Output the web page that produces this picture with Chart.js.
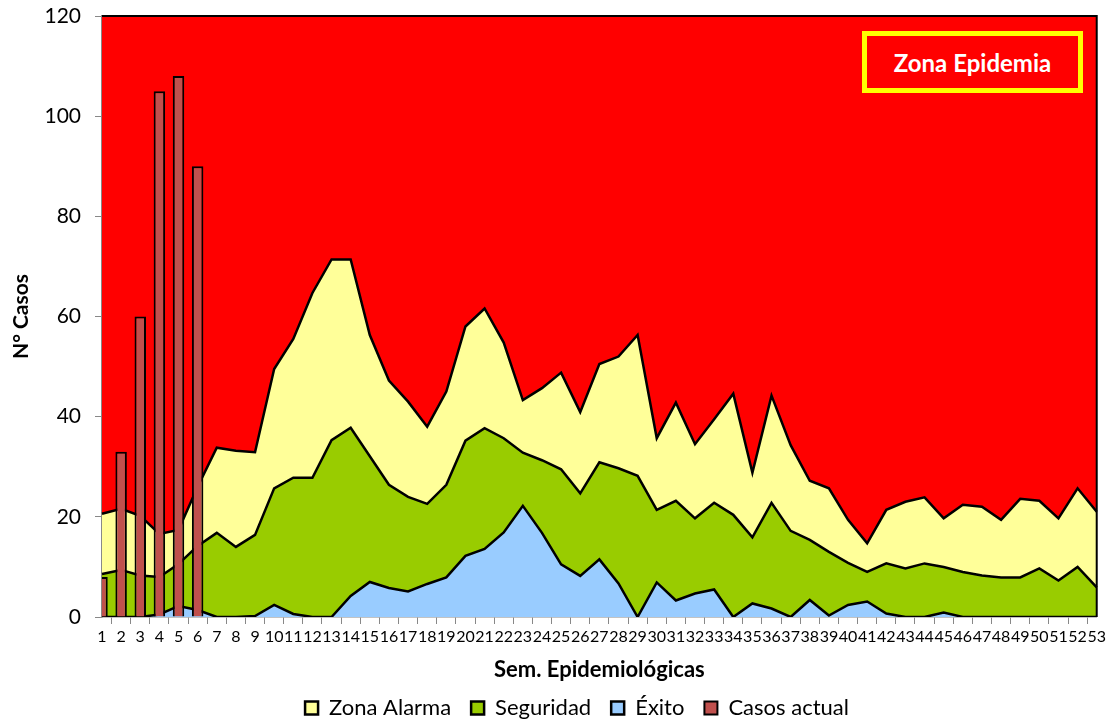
<!DOCTYPE html>
<html>
<head>
<meta charset="utf-8">
<script src="https://cdn.jsdelivr.net/npm/chart.js@4.4.0/dist/chart.umd.min.js"></script>
<style>
  html, body { margin: 0; padding: 0; background: #fff; }
  #wrap { position: relative; width: 1109px; height: 725px; }
  #zona {
    position: absolute; left: 862px; top: 31px; width: 211px; height: 52px;
    border: 5px solid #FFFF00; background: #FF0000; color: #fff;
    font: bold 24px Lato, sans-serif;
    display: flex; align-items: center; justify-content: center;
  }
</style>
</head>
<body>
<div id="wrap">
  <canvas id="chart" width="1109" height="725"></canvas>
  <div id="zona">Zona Epidemia</div>
</div>
<script>
// Semanas epidemiológicas
const semanas = ['1','2','3','4','5','6','7','8','9','10','11','12','13','14','15','16','17','18','19','20',
  '21','22','23','24','25','26','27','28','29','30','31','32','33','34','35','36','37','38','39','40',
  '41','42','43','44','45','46','47','48','49','50','51','52','53'];

const zonaAlarma = [20.6, 21.6, 20.2, 16.6, 17.4, 26.0, 33.8, 33.2, 32.9, 49.5,
  55.5, 64.7, 71.4, 71.4, 56.3, 47.2, 43.0, 38.0, 45.0, 58.0,
  61.6, 54.8, 43.3, 45.7, 48.8, 40.9, 50.5, 52.0, 56.3, 35.7,
  42.8, 34.5, 39.5, 44.6, 28.8, 44.2, 34.3, 27.2, 25.7, 19.4,
  14.7, 21.4, 23.0, 23.9, 19.7, 22.4, 22.0, 19.4, 23.6, 23.2,
  19.7, 25.7, 21.0];

const seguridad = [8.6, 9.4, 8.3, 8.0, 10.6, 14.2, 16.8, 14.0, 16.4, 25.7,
  27.8, 27.8, 35.3, 37.8, 32.1, 26.4, 24.0, 22.6, 26.4, 35.2,
  37.7, 35.7, 32.8, 31.3, 29.5, 24.7, 30.9, 29.7, 28.2, 21.4,
  23.2, 19.7, 22.8, 20.4, 15.9, 22.8, 17.2, 15.4, 13.0, 10.8,
  9.0, 10.7, 9.7, 10.7, 10.0, 9.0, 8.3, 7.9, 7.9, 9.7,
  7.3, 10.0, 5.9];

const exito = [0, 0, 0, 0.5, 2.2, 1.4, 0, 0, 0.2, 2.4,
  0.6, 0, 0, 4.2, 7.0, 5.8, 5.1, 6.6, 7.9, 12.2,
  13.6, 16.9, 22.2, 16.8, 10.5, 8.2, 11.5, 6.7, 0, 6.9,
  3.3, 4.7, 5.5, 0, 2.7, 1.7, 0, 3.4, 0.3, 2.4,
  3.1, 0.7, 0, 0, 0.9, 0, 0, 0, 0, 0,
  0, 0, 0];

const casosActual = [8, 33, 60, 105, 108, 90];

const yTicks = [0, 20, 40, 60, 80, 100, 120];

// red "zona epidemia" background + black frame top/right
const fondo = {
  id: 'fondo',
  beforeDatasetsDraw(chart) {
    const {ctx, chartArea: a} = chart;
    ctx.save();
    ctx.fillStyle = '#FF0000';
    ctx.fillRect(a.left, a.top, a.right - a.left, a.bottom - a.top);
    ctx.restore();
  },
  afterDraw(chart) {
    const {ctx, chartArea: a} = chart;
    ctx.save();
    ctx.strokeStyle = '#000';
    ctx.lineWidth = 2;
    ctx.beginPath();
    ctx.moveTo(a.left, a.top);
    ctx.lineTo(a.right, a.top);
    ctx.lineTo(a.right, a.bottom);
    ctx.stroke();
    ctx.restore();
  },
  afterLayout(chart) {
    // nudge the legend to where the original sits
    chart.legend.left += 28;
    chart.legend.right += 28;
    chart.legend.top -= 11;
  }
};

const area = (label, data, color, order) => ({
  label, data, order,
  backgroundColor: color,
  borderColor: '#000',
  borderWidth: 2.5,
  fill: 'origin',
  pointRadius: 0,
  tension: 0
});

new Chart(document.getElementById('chart'), {
  type: 'line',
  data: {
    labels: semanas,
    datasets: [
      area('Zona Alarma', zonaAlarma, '#FFFF99', 3),
      area('Seguridad', seguridad, '#99CC00', 2),
      area('Éxito', exito, '#99CCFF', 1),
      {
        type: 'bar',
        label: 'Casos actual',
        data: casosActual,
        backgroundColor: '#C0504D',
        borderColor: '#000',
        borderWidth: 2,
        barPercentage: 0.6,
        categoryPercentage: 1,
        order: 0,
        clip: 0
      }
    ]
  },
  options: {
    responsive: false,
    animation: false,
    layout: { padding: { top: 16, right: 11, left: 0, bottom: 0 } },
    plugins: {
      tooltip: { enabled: false },
      legend: {
        position: 'bottom',
        maxHeight: 37,
        labels: {
          sort: (a, b) => a.datasetIndex - b.datasetIndex,
          color: '#000',
          font: { family: 'Lato', size: 22 },
          boxWidth: 13,
          boxHeight: 13,
          padding: 20
        }
      }
    },
    scales: {
      x: {
        offset: false,
        grid: { drawOnChartArea: false, tickLength: 7, color: '#888' },
        border: { color: '#888', width: 1.5 },
        ticks: { autoSkip: false, maxRotation: 0, color: '#000', padding: 3,
                 font: { family: 'Lato', size: 16 } },
        title: { display: true, text: 'Sem. Epidemiológicas', color: '#000',
                 font: { family: 'Lato', size: 22, weight: 'bold' },
                 padding: { top: 0, bottom: 5 } },
        afterFit: s => { s.height = 71; }
      },
      y: {
        min: 0, max: 120,
        afterBuildTicks: s => { s.ticks = yTicks.map(v => ({ value: v })); },
        grid: { drawOnChartArea: false, tickLength: 7, color: '#888' },
        border: { color: '#888', width: 1.5 },
        ticks: { color: '#000', padding: 14, font: { family: 'Lato', size: 21 } },
        title: { display: true, text: 'N° Casos', color: '#000',
                 font: { family: 'Lato', size: 21, weight: 'bold' },
                 padding: { top: 9, bottom: 0 } },
        afterFit: s => {
          s.width = 102;
          s.paddingTop = 12;
          s.paddingBottom = 12;
        }
      }
    }
  },
  plugins: [fondo]
});
</script>
</body>
</html>
